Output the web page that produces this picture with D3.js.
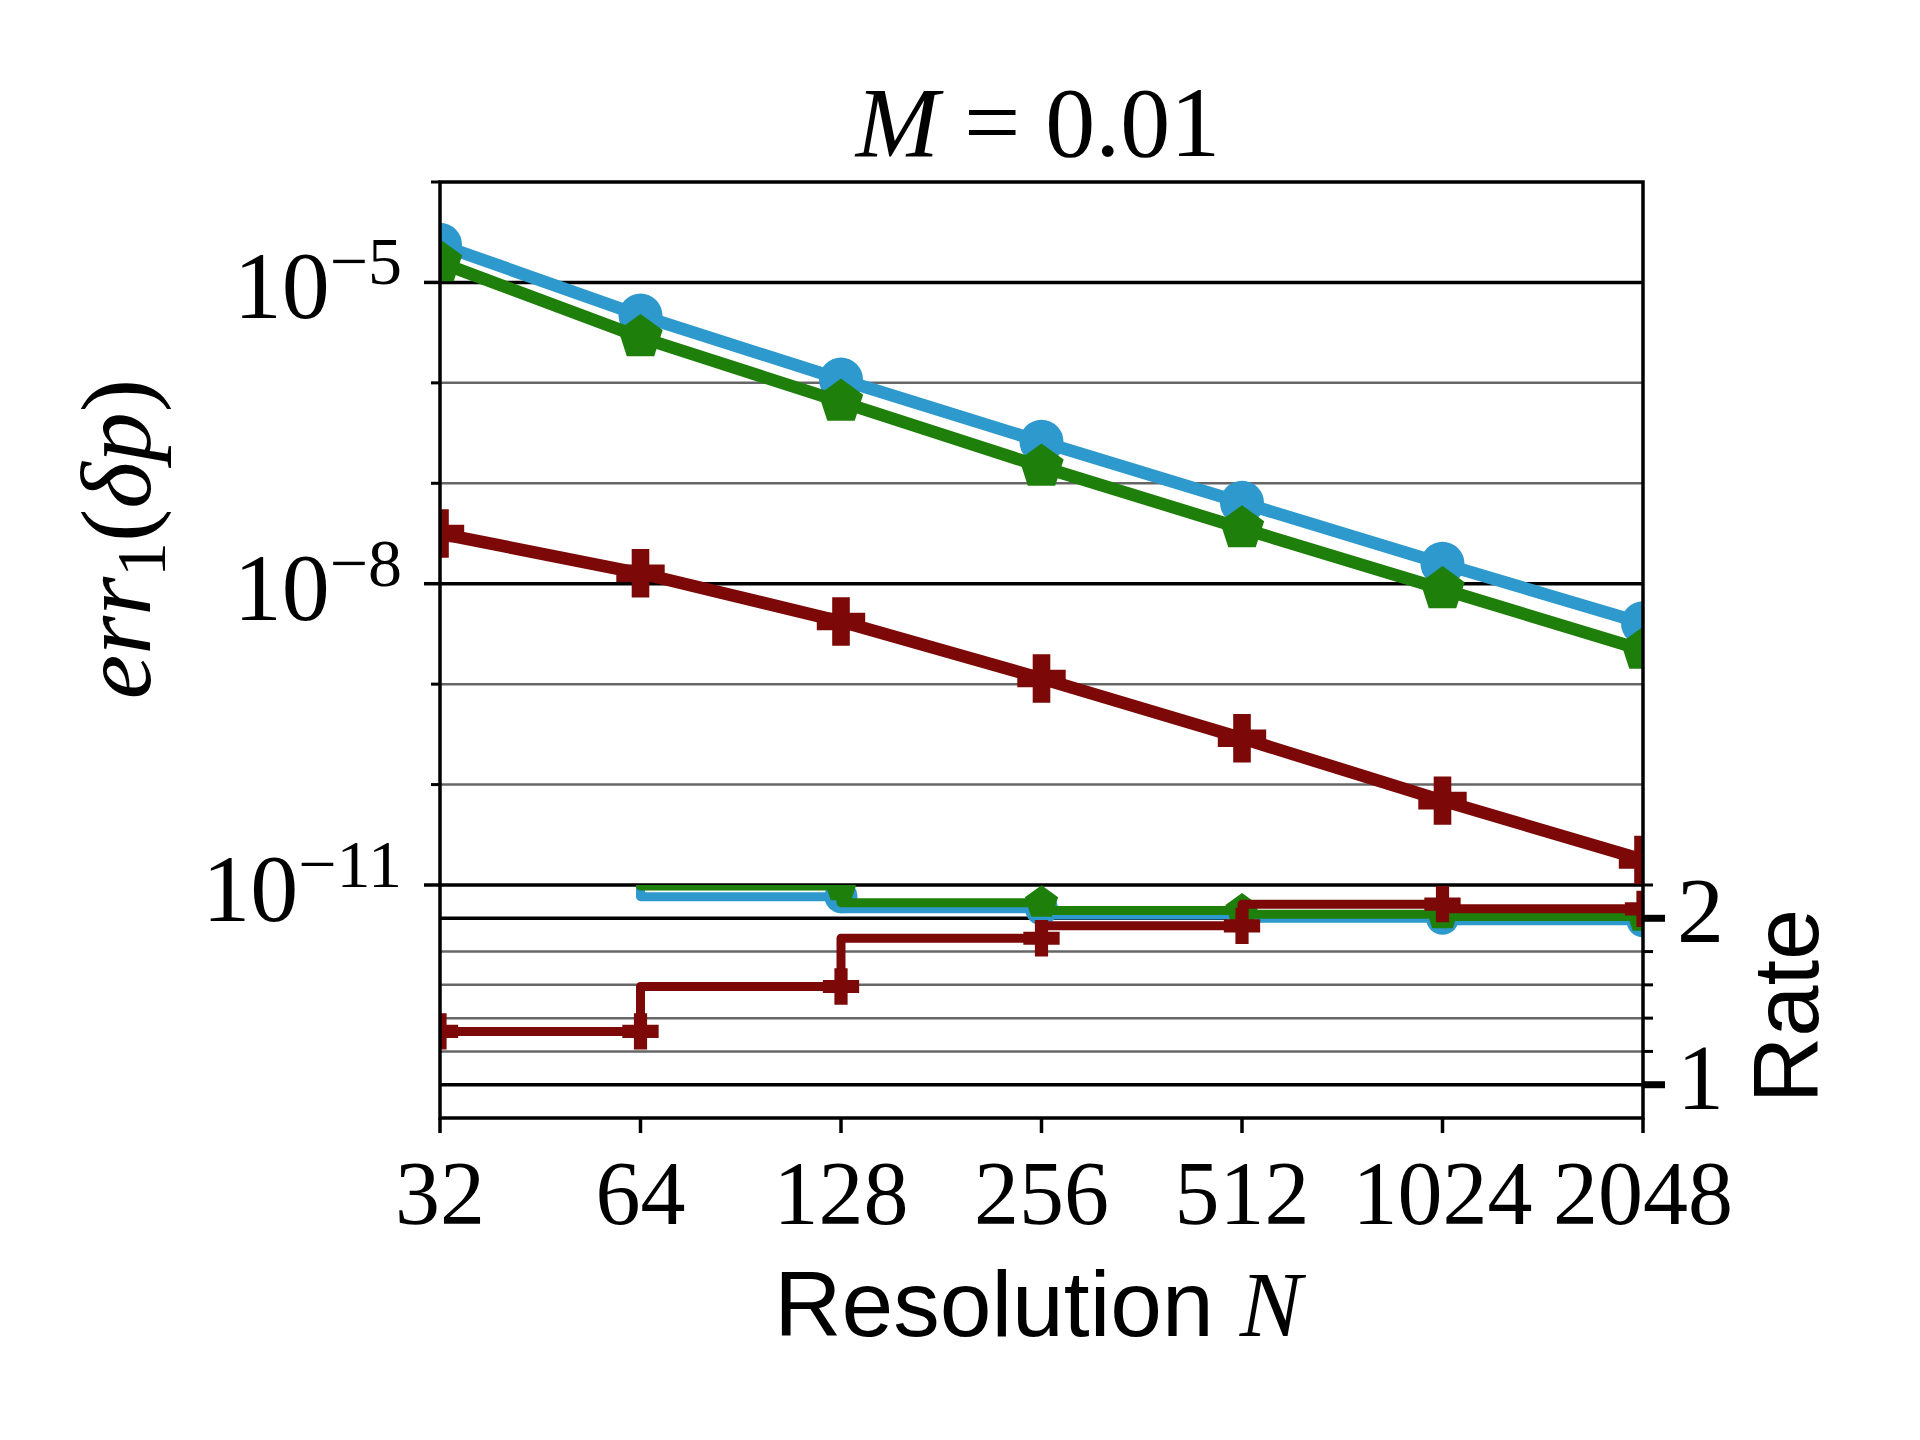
<!DOCTYPE html>
<html>
<head>
<meta charset="utf-8">
<script src="https://cdn.jsdelivr.net/npm/d3@7"></script>
<style>
  body { margin: 0; background: #fff; }
</style>
</head>
<body>
<div id="chart"></div>
<script>
// values
const resolutions = [32, 64, 128, 256, 512, 1024, 2048];
const resolutionLabels = ["32", "64", "128", "256", "512", "1024", "2048"];

const errBlue  = [2.37e-5, 4.68e-6, 1.08e-6, 2.59e-7, 6.40e-8, 1.58e-8, 4.03e-9];
const errGreen = [1.58e-5, 2.84e-6, 6.46e-7, 1.46e-7, 3.55e-8, 8.79e-9, 2.19e-9];
const errRed   = [3.16e-8, 1.27e-8, 4.20e-9, 1.14e-9, 2.89e-10, 6.92e-11, 1.78e-11];

const rateBlue  = [2.34, 2.34, 2.13, 2.057, 2.02, 2.0, 1.985];
const rateGreen = [2.48, 2.48, 2.194, 2.094, 2.047, 2.025, 2.01];
const rateRed   = [1.32, 1.32, 1.59, 1.88, 1.955, 2.085, 2.057];

const errMajor = [1e-5, 1e-8, 1e-11];
const errMajorExp = ["\u22125", "\u22128", "\u221211"];
const errMinor = [1e-4, 1e-6, 1e-7, 1e-9, 1e-10];
const rateMajor = [1, 2];
const rateMinor = [1.2, 1.4, 1.6, 1.8, 2.2];

const colors = { blue: "#2e99cd", green: "#1f7f0b", red: "#7d0808" };

const serif = "'Liberation Serif', 'DejaVu Serif', serif";
const sans = "'Liberation Sans', 'DejaVu Sans', sans-serif";

const width = 1920, height = 1440;
const plotLeft = 440, plotRight = 1643, plotTop = 182, plotMid = 885, plotBottom = 1118;

const svg = d3.select("#chart").append("svg")
    .attr("width", width)
    .attr("height", height)
    .style("background", "#fff");

const x = d3.scaleLog().base(2).domain([32, 2048]).range([plotLeft, plotRight]);
const yErr = d3.scaleLog().domain([1e-4, 1e-11]).range([plotTop, plotMid]);
const yRate = d3.scaleLinear().domain([0.8, 2.2]).range([plotBottom, plotMid]);

const defs = svg.append("defs");
defs.append("clipPath").attr("id", "clipTop")
    .append("rect").attr("x", plotLeft).attr("y", plotTop)
    .attr("width", plotRight - plotLeft).attr("height", plotMid - plotTop);
defs.append("clipPath").attr("id", "clipBottom")
    .append("rect").attr("x", plotLeft).attr("y", plotMid)
    .attr("width", plotRight - plotLeft).attr("height", plotBottom - plotMid);

// grid lines
const grid = svg.append("g");
grid.selectAll(".gErrMinor").data(errMinor.filter(d => d < 1e-4))
    .enter().append("line")
    .attr("x1", plotLeft).attr("x2", plotRight)
    .attr("y1", d => yErr(d)).attr("y2", d => yErr(d))
    .attr("stroke", "#666").attr("stroke-width", 2.5);
grid.selectAll(".gErrMajor").data(errMajor)
    .enter().append("line")
    .attr("x1", plotLeft).attr("x2", plotRight)
    .attr("y1", d => yErr(d)).attr("y2", d => yErr(d))
    .attr("stroke", "#000").attr("stroke-width", 3.5);
grid.selectAll(".gRateMinor").data(rateMinor.filter(d => d < 2.2))
    .enter().append("line")
    .attr("x1", plotLeft).attr("x2", plotRight)
    .attr("y1", d => yRate(d)).attr("y2", d => yRate(d))
    .attr("stroke", "#666").attr("stroke-width", 2.5);
grid.selectAll(".gRateMajor").data(rateMajor)
    .enter().append("line")
    .attr("x1", plotLeft).attr("x2", plotRight)
    .attr("y1", d => yRate(d)).attr("y2", d => yRate(d))
    .attr("stroke", "#000").attr("stroke-width", 3.5);

// marker shapes
function pentagon(R) {
    const pts = d3.range(5).map(k => {
        const a = -Math.PI / 2 + k * 2 * Math.PI / 5;
        return [R * Math.cos(a), R * Math.sin(a)];
    });
    return "M" + pts.map(p => p.join(",")).join("L") + "Z";
}
function plus(a, b) {
    return `M${-b},${-a}H${b}V${-b}H${a}V${b}H${b}V${a}H${-b}V${b}H${-a}V${-b}H${-b}Z`;
}
function markerPath(kind, s) {
    if (kind === "circle") return d3.symbol(d3.symbolCircle, Math.PI * s * s / 4)();
    if (kind === "pentagon") return pentagon(s * 0.53);
    return plus(s * 0.55, s * 0.2);
}

function drawSeries(g, xs, ys, yScale, color, kind, lw, ms, curve) {
    const line = d3.line()
        .x((d, i) => x(xs[i]))
        .y(d => yScale(d))
        .curve(curve);
    g.append("path")
        .datum(ys)
        .attr("d", line)
        .attr("fill", "none")
        .attr("stroke", color)
        .attr("stroke-width", lw)
        .attr("stroke-linejoin", "round");
    g.selectAll(null).data(ys).enter().append("path")
        .attr("d", markerPath(kind, ms))
        .attr("transform", (d, i) => `translate(${x(xs[i])},${yScale(d)})`)
        .attr("fill", color);
}

const topG = svg.append("g").attr("clip-path", "url(#clipTop)");
drawSeries(topG, resolutions, errBlue, yErr, colors.blue, "circle", 12.5, 44, d3.curveLinear);
drawSeries(topG, resolutions, errGreen, yErr, colors.green, "pentagon", 12.5, 44, d3.curveLinear);
drawSeries(topG, resolutions, errRed, yErr, colors.red, "plus", 12.5, 44, d3.curveLinear);

const botG = svg.append("g").attr("clip-path", "url(#clipBottom)");
drawSeries(botG, resolutions, rateBlue, yRate, colors.blue, "circle", 9, 33, d3.curveStepBefore);
drawSeries(botG, resolutions, rateGreen, yRate, colors.green, "pentagon", 9, 33, d3.curveStepBefore);
drawSeries(botG, resolutions, rateRed, yRate, colors.red, "plus", 9, 33, d3.curveStepBefore);

// spines
svg.append("rect")
    .attr("x", plotLeft).attr("y", plotTop)
    .attr("width", plotRight - plotLeft).attr("height", plotBottom - plotTop)
    .attr("fill", "none").attr("stroke", "#000").attr("stroke-width", 3.5);

// left ticks
svg.selectAll(".tErrMajor").data(errMajor).enter().append("line")
    .attr("x1", plotLeft - 16).attr("x2", plotLeft)
    .attr("y1", d => yErr(d)).attr("y2", d => yErr(d))
    .attr("stroke", "#000").attr("stroke-width", 3.5);
svg.selectAll(".tErrMinor").data(errMinor).enter().append("line")
    .attr("x1", plotLeft - 9).attr("x2", plotLeft)
    .attr("y1", d => yErr(d)).attr("y2", d => yErr(d))
    .attr("stroke", "#000").attr("stroke-width", 3);

const yLabels = svg.selectAll(".yl").data(errMajor).enter().append("text")
    .attr("x", 402)
    .attr("y", d => yErr(d) + 36)
    .attr("text-anchor", "end")
    .attr("font-family", serif)
    .attr("font-size", 96);
yLabels.append("tspan").text("10");
yLabels.append("tspan")
    .attr("dy", -34)
    .attr("font-size", 68)
    .text((d, i) => errMajorExp[i]);

// right (rate) ticks
svg.selectAll(".tRateMajor").data(rateMajor).enter().append("line")
    .attr("x1", plotRight).attr("x2", plotRight + 22)
    .attr("y1", d => yRate(d)).attr("y2", d => yRate(d))
    .attr("stroke", "#000").attr("stroke-width", 7);
svg.selectAll(".tRateMinor").data(rateMinor).enter().append("line")
    .attr("x1", plotRight).attr("x2", plotRight + 10)
    .attr("y1", d => yRate(d)).attr("y2", d => yRate(d))
    .attr("stroke", "#000").attr("stroke-width", 3);
svg.selectAll(".rl").data(rateMajor).enter().append("text")
    .attr("x", 1677)
    .attr("y", d => yRate(d) + 24)
    .attr("font-family", serif)
    .attr("font-size", 94)
    .text(d => d);

// bottom ticks
svg.selectAll(".tx").data(resolutions).enter().append("line")
    .attr("x1", d => x(d)).attr("x2", d => x(d))
    .attr("y1", plotBottom).attr("y2", plotBottom + 15)
    .attr("stroke", "#000").attr("stroke-width", 3.5);
svg.selectAll(".xl").data(resolutions).enter().append("text")
    .attr("x", d => x(d))
    .attr("y", 1224)
    .attr("text-anchor", "middle")
    .attr("font-family", serif)
    .attr("font-size", 90)
    .text((d, i) => resolutionLabels[i]);

// title
const title = svg.append("text")
    .attr("x", 1038).attr("y", 156)
    .attr("text-anchor", "middle")
    .attr("font-family", serif)
    .attr("font-size", 100);
title.append("tspan").attr("font-style", "italic").text("M");
title.append("tspan").text(" = 0.01");

// x label
const xlab = svg.append("text")
    .attr("x", 1038).attr("y", 1336)
    .attr("text-anchor", "middle")
    .attr("font-size", 93);
xlab.append("tspan").attr("font-family", sans).text("Resolution ");
xlab.append("tspan").attr("font-family", serif).attr("font-style", "italic").text("N");

// y label
const ylab = svg.append("text")
    .attr("transform", "translate(150,539) rotate(-90)")
    .attr("text-anchor", "middle")
    .attr("font-family", serif)
    .attr("font-size", 100);
ylab.append("tspan").attr("font-style", "italic").text("err");
ylab.append("tspan").attr("font-size", 70).attr("dy", 15).text("1");
ylab.append("tspan").attr("dy", -15).text("(");
ylab.append("tspan").attr("font-style", "italic").text("\u03b4p");
ylab.append("tspan").text(")");

// rate label
svg.append("text")
    .attr("transform", "translate(1818,1006) rotate(-90)")
    .attr("text-anchor", "middle")
    .attr("font-family", sans)
    .attr("font-size", 92)
    .text("Rate");
</script>
</body>
</html>
